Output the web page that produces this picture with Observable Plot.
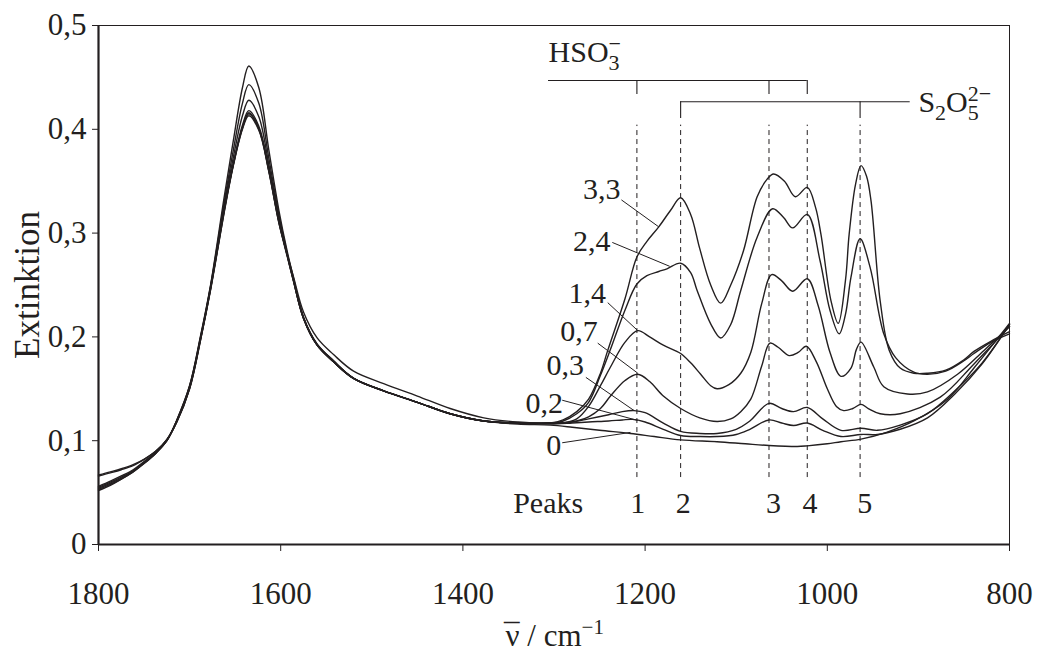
<!DOCTYPE html>
<html>
<head>
<meta charset="utf-8">
<script src="https://cdn.jsdelivr.net/npm/d3@7"></script>
<script src="https://cdn.jsdelivr.net/npm/@observablehq/plot@0.6"></script>
<style>
  html, body { margin: 0; padding: 0; background: #fff; }
  svg { display: block; }
</style>
</head>
<body>
<div id="chart"></div>
<script>
// ---- Data ----
const seriesNames = ["0", "0,2", "0,3", "0,7", "1,4", "2,4", "3,3"];

// common wavenumbers of the water band region (cm^-1)
const leftWavenumbers = [1800,1787,1775,1762,1750,1737,1725,1714,1700,1688,1677,1662,1652,1642,1635,1624,1613,1602,1593,1586,1575,1560,1542,1520,1487,1450,1414,1377,1340];

const left_0  = [0.052,0.057,0.063,0.070,0.078,0.088,0.100,0.120,0.153,0.201,0.250,0.335,0.389,0.440,0.461,0.440,0.380,0.322,0.283,0.257,0.219,0.193,0.177,0.160,0.148,0.137,0.126,0.119,0.116];
const left_02 = [0.053,0.058,0.063,0.070,0.078,0.088,0.100,0.120,0.153,0.200,0.249,0.330,0.380,0.425,0.443,0.425,0.372,0.318,0.281,0.256,0.219,0.193,0.177,0.160,0.148,0.137,0.126,0.119,0.117];
const left_03 = [0.054,0.059,0.064,0.071,0.079,0.088,0.100,0.119,0.152,0.199,0.248,0.327,0.373,0.413,0.428,0.412,0.366,0.315,0.280,0.255,0.218,0.192,0.176,0.160,0.148,0.137,0.126,0.119,0.117];
const left_07 = [0.055,0.060,0.065,0.071,0.079,0.089,0.100,0.119,0.151,0.198,0.247,0.323,0.367,0.404,0.418,0.403,0.362,0.312,0.279,0.254,0.218,0.192,0.176,0.160,0.148,0.137,0.126,0.119,0.117];
const left_14 = [0.056,0.061,0.066,0.072,0.080,0.089,0.101,0.119,0.151,0.198,0.246,0.322,0.366,0.402,0.416,0.401,0.360,0.311,0.279,0.254,0.218,0.192,0.176,0.160,0.148,0.137,0.126,0.119,0.117];
const left_24 = [0.066,0.069,0.072,0.076,0.082,0.090,0.101,0.118,0.150,0.197,0.246,0.321,0.366,0.401,0.415,0.400,0.360,0.310,0.278,0.254,0.218,0.192,0.176,0.160,0.148,0.137,0.126,0.119,0.117];
const left_33 = [0.067,0.070,0.073,0.077,0.082,0.090,0.101,0.118,0.150,0.197,0.245,0.320,0.365,0.400,0.413,0.399,0.359,0.310,0.280,0.258,0.224,0.199,0.183,0.167,0.155,0.143,0.131,0.122,0.118];

// sulfite region, per curve
const wn_0  = [1304,1280,1250,1216,1190,1161,1121,1090,1064,1033,1022,1000,985,963,935,905,868,839,800];
const ext_0 = [0.115,0.113,0.110,0.107,0.104,0.1008,0.099,0.097,0.0954,0.0944,0.095,0.097,0.099,0.1015,0.108,0.119,0.140,0.170,0.213];

const wn_02  = [1304,1280,1262,1240,1225,1214,1200,1180,1161,1140,1121,1100,1085,1064,1050,1037,1022,1005,985,963,945,920,890,860,830,800];
const ext_02 = [0.116,0.117,0.118,0.119,0.120,0.1205,0.118,0.111,0.105,0.104,0.104,0.106,0.111,0.120,0.117,0.1146,0.117,0.110,0.104,0.106,0.106,0.111,0.122,0.145,0.174,0.212];

const wn_03  = [1304,1280,1262,1240,1225,1212,1200,1180,1161,1140,1121,1100,1085,1064,1050,1037,1022,1005,985,963,945,920,890,860,830,800];
const ext_03 = [0.117,0.118,0.121,0.125,0.128,0.129,0.127,0.117,0.109,0.107,0.107,0.111,0.119,0.136,0.131,0.128,0.132,0.121,0.110,0.112,0.110,0.115,0.126,0.148,0.175,0.212];

const wn_07  = [1304,1290,1275,1262,1249,1238,1222,1208,1195,1180,1161,1140,1121,1106,1095,1084,1072,1063,1054,1042,1032,1023,1012,1000,990,982,972,963,955,942,920,876,839,800];
const ext_07 = [0.117,0.117,0.119,0.123,0.131,0.143,0.158,0.164,0.157,0.143,0.131,0.122,0.1185,0.121,0.128,0.140,0.172,0.194,0.190,0.182,0.185,0.191,0.176,0.150,0.133,0.129,0.131,0.135,0.131,0.126,0.126,0.142,0.174,0.210];

const wn_14  = [1304,1290,1275,1262,1249,1238,1222,1208,1195,1180,1161,1150,1139,1128,1121,1108,1095,1084,1072,1061,1050,1038,1022,1010,997,985,974,968,963,949,938,912,890,857,828,800];
const ext_14 = [0.117,0.117,0.121,0.133,0.153,0.171,0.195,0.206,0.200,0.192,0.184,0.175,0.164,0.153,0.150,0.154,0.165,0.185,0.232,0.260,0.254,0.244,0.256,0.230,0.185,0.162,0.170,0.188,0.195,0.171,0.152,0.145,0.147,0.164,0.187,0.210];

const wn_24  = [1304,1290,1275,1262,1249,1238,1222,1209,1198,1185,1176,1161,1150,1143,1128,1117,1106,1095,1077,1060,1048,1038,1022,1008,997,987,980,974,964,953,938,925,905,890,870,850,839,820,800];
const ext_24 = [0.117,0.119,0.126,0.137,0.163,0.188,0.226,0.251,0.259,0.263,0.2656,0.271,0.262,0.245,0.2126,0.199,0.212,0.2447,0.296,0.3234,0.315,0.305,0.318,0.2736,0.2254,0.203,0.222,0.2575,0.2945,0.267,0.203,0.180,0.166,0.164,0.167,0.177,0.184,0.195,0.203];

const wn_33  = [1304,1290,1275,1262,1249,1241,1222,1209,1198,1185,1172,1161,1150,1140,1128,1117,1106,1092,1077,1066,1059,1047,1035,1022,1013,1007,996,988,980,976,969,963,957,952,942,932,920,905,890,870,850,839,820,800];
const ext_33 = [0.117,0.120,0.128,0.140,0.165,0.187,0.237,0.277,0.292,0.306,0.322,0.334,0.318,0.285,0.250,0.2325,0.250,0.283,0.335,0.352,0.357,0.350,0.335,0.344,0.325,0.299,0.235,0.213,0.255,0.299,0.347,0.365,0.355,0.331,0.235,0.187,0.170,0.165,0.165,0.168,0.178,0.186,0.196,0.205];

// peaks
const peakWavenumbers = [1209, 1161, 1064, 1022, 964];
const peakLabels = ["1", "2", "3", "4", "5"];
const peakLabelWavenumbers = [1208, 1158, 1059, 1019, 959];
const hso3Peaks = [1209, 1064, 1022];
const s2o5Peaks = [1161, 964];

// curve labels (right end / baseline) and leader lines
const curveLabels = ["3,3", "2,4", "1,4", "0,7", "0,3", "0,2", "0"];
const labelWn  = [1227, 1238, 1243, 1252, 1267, 1290, 1292];
const labelExt = [0.333, 0.283, 0.233, 0.196, 0.163, 0.127, 0.086];
const leaderWn1  = [1226, 1236, 1241, 1252, 1265, 1291, 1291];
const leaderExt1 = [0.332, 0.291, 0.233, 0.194, 0.161, 0.139, 0.098];
const leaderWn2  = [1185, 1173, 1208, 1208, 1212, 1208, 1216];
const leaderExt2 = [0.306, 0.268, 0.206, 0.165, 0.129, 0.1195, 0.108];

const xTicks = [1800, 1600, 1400, 1200, 1000, 800];
const yTicks = [0, 0.1, 0.2, 0.3, 0.4, 0.5];

// ---- build tables ----
const lefts = [left_0, left_02, left_03, left_07, left_14, left_24, left_33];
const rightsWn = [wn_0, wn_02, wn_03, wn_07, wn_14, wn_24, wn_33];
const rightsExt = [ext_0, ext_02, ext_03, ext_07, ext_14, ext_24, ext_33];
const rows = [];
seriesNames.forEach((s, i) => {
  leftWavenumbers.forEach((w, j) => rows.push({series: s, wn: w, ext: lefts[i][j]}));
  rightsWn[i].forEach((w, j) => rows.push({series: s, wn: w, ext: rightsExt[i][j]}));
});
const labels = curveLabels.map((t, i) => ({t, wn: labelWn[i], ext: labelExt[i],
  x1: leaderWn1[i], y1: leaderExt1[i], x2: leaderWn2[i], y2: leaderExt2[i]}));

const ink = "#231f20";
const font = "Liberation Serif";

const plot = Plot.plot({
  width: 1043,
  height: 656,
  marginLeft: 98,
  marginRight: 34,
  marginTop: 25,
  marginBottom: 112,
  style: {fontFamily: font, fontSize: "31px", color: ink, background: "#fff"},
  x: {domain: [1800, 800], ticks: xTicks, tickSize: 7, tickPadding: 30, tickFormat: d => String(d), label: null},
  y: {domain: [0, 0.5], ticks: yTicks, tickSize: 6, tickPadding: 6, label: null,
      tickFormat: d => d === 0 ? "0" : d.toFixed(1).replace(".", ",")},
  marks: [
    // frame
    Plot.ruleY([0.5], {stroke: ink, strokeWidth: 1}),
    Plot.ruleX([800], {stroke: ink, strokeWidth: 1}),
    Plot.ruleX([1800], {stroke: ink, strokeWidth: 2.2}),
    Plot.ruleY([0], {stroke: ink, strokeWidth: 2.2}),
    // dashed peak lines
    Plot.ruleX(peakWavenumbers, {x: d => d, y1: 0.0645, y2: 0.404, stroke: ink, strokeWidth: 1, strokeDasharray: "5,4"}),
    // HSO3- bracket
    Plot.ruleY([0.447], {x1: 1306, x2: 1022, stroke: ink, strokeWidth: 1.1}),
    Plot.ruleX(hso3Peaks, {x: d => d, y1: 0.447, y2: 0.4335, stroke: ink, strokeWidth: 1.1}),
    // S2O5 2- bracket
    Plot.ruleY([0.4265], {x1: 1161, x2: 909, stroke: ink, strokeWidth: 1.1}),
    Plot.ruleX(s2o5Peaks, {x: d => d, y1: 0.4265, y2: 0.4105, stroke: ink, strokeWidth: 1.1}),
    // spectra
    Plot.line(rows, {x: "wn", y: "ext", z: "series", stroke: ink, strokeWidth: 1.4, curve: "catmull-rom"}),
    // leaders and curve labels
    Plot.link(labels, {x1: "x1", y1: "y1", x2: "x2", y2: "y2", stroke: ink, strokeWidth: 1}),
    Plot.text(labels, {x: "wn", y: "ext", text: "t", textAnchor: "end", lineAnchor: "bottom", fontSize: 30, fill: ink}),
    // peak labels
    Plot.text(peakLabels, {x: (d, i) => peakLabelWavenumbers[i], y: 0.03, text: d => d, lineAnchor: "bottom", fontSize: 30, fill: ink}),
    Plot.text(["Peaks"], {x: 1268, y: 0.03, text: d => d, textAnchor: "end", lineAnchor: "bottom", fontSize: 30, fill: ink}),
    // species labels
    Plot.text(["HSO3-"], {x: 1306, y: 0.4644, text: d => d, textAnchor: "start", lineAnchor: "bottom", fontSize: 30, fill: ink}),
    Plot.text(["S2O52-"], {x: 900, y: 0.4165, text: d => d, textAnchor: "start", lineAnchor: "bottom", fontSize: 30, fill: ink}),
    // axis titles
    Plot.text(["Extinktion"], {frameAnchor: "left", dx: -60, rotate: -90, text: d => d, textAnchor: "middle", lineAnchor: "bottom", fontSize: 35, fill: ink}),
    Plot.text(["nu/cm-1"], {frameAnchor: "bottom", dy: 101, text: d => d, textAnchor: "middle", lineAnchor: "bottom", fontSize: 31, fill: ink})
  ]
});

// rich text (sub/superscripts)
const rich = {
  "HSO3-": [["HSO", 0, 0, 30], ["3", 0, 8, 22], ["\u2212", -11, -19, 22]],
  "S2O52-": [["S", 0, 0, 30], ["2", 0, 8, 22], ["O", 0, -8, 30], ["5", 0, 8, 22], ["2\u2212", -11, -19, 22]],
  "nu/cm-1": [["\u03BD", 0, 0, 31], ["\u00AF", -15.5, 0, 31], [" / cm", 0, 0, 31], ["\u22121", 0, -12, 21]]
};
d3.select(plot).selectAll("text").each(function() {
  const parts = rich[this.textContent];
  if (!parts) return;
  const sel = d3.select(this);
  sel.text(null);
  parts.forEach(([t, dx, dy, fs]) => {
    sel.append("tspan").attr("dx", dx).attr("dy", dy).attr("font-size", fs).text(t);
  });
});

document.getElementById("chart").appendChild(plot);
</script>
</body>
</html>
